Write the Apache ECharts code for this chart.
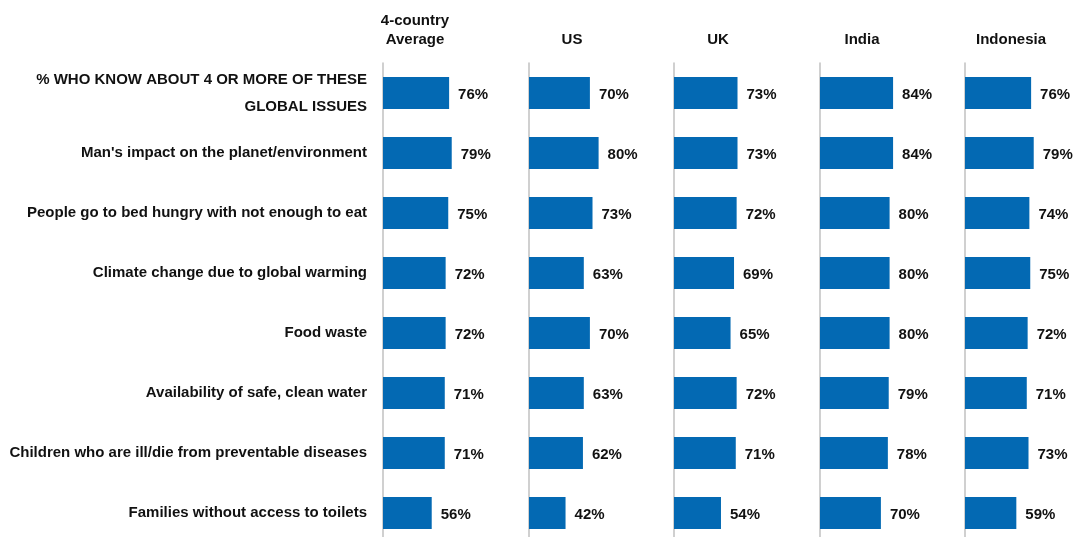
<!DOCTYPE html>
<html>
<head>
<meta charset="utf-8">
<script src="https://cdn.jsdelivr.net/npm/echarts@6/dist/echarts.min.js"></script>
<style>
  html, body { margin: 0; padding: 0; background: #fff; overflow: hidden; }
  #chart { width: 1074px; height: 543px; }
</style>
</head>
<body>
<div id="chart"></div>
<script>
// Awareness of global issues, by country
const categories = [
  '% WHO KNOW ABOUT 4 OR MORE OF THESE\nGLOBAL ISSUES',
  "Man's impact on the planet/environment",
  'People go to bed hungry with not enough to eat',
  'Climate change due to global warming',
  'Food waste',
  'Availability of safe, clean water',
  'Children who are ill/die from preventable diseases',
  'Families without access to toilets'
];
const panelTitles = ['4-country\nAverage', 'US', 'UK', 'India', 'Indonesia'];
const average = [76, 79, 75, 72, 72, 71, 71, 56];
const us = [70, 80, 73, 63, 70, 63, 62, 42];
const uk = [73, 73, 72, 69, 65, 72, 71, 54];
const india = [84, 84, 80, 80, 80, 79, 78, 70];
const indonesia = [76, 79, 74, 75, 72, 71, 73, 59];

const panelValues = [average, us, uk, india, indonesia];
const panelLeft = [383, 529, 674, 820, 965];
const titleCenter = [410, 567, 713, 857, 1006];

const FONT = '"Liberation Sans", Arial, sans-serif';
const BAR = '#0369b3';
const TEXT = '#111111';

const grids = [], xAxes = [], yAxes = [], series = [], titles = [];
panelValues.forEach((vals, i) => {
  // the plot area runs slightly past the bottom edge of the page
  grids.push({ left: panelLeft[i], top: 63, width: 87, bottom: 0 });
  xAxes.push({
    gridIndex: i, type: 'value', min: 0, max: 100,
    show: false
  });
  yAxes.push({
    gridIndex: i, type: 'category', data: categories, inverse: true,
    axisLine: { show: true, lineStyle: { color: '#c0c0c0', width: 1.5 } },
    axisTick: { show: false },
    axisLabel: {
      show: i === 0, margin: 16, fontSize: 15, fontWeight: 'bold',
      fontFamily: FONT, color: TEXT, lineHeight: 27, align: 'right',
      padding: [3, 0, 0, 0]
    }
  });
  series.push({
    type: 'bar', xAxisIndex: i, yAxisIndex: i, data: vals,
    barWidth: 32,
    itemStyle: { color: BAR },
    label: {
      show: true, position: 'right', distance: 9, offset: [0, 2],
      formatter: '{c}%', fontSize: 15, fontWeight: 'bold',
      fontFamily: FONT, color: TEXT
    },
    silent: true, animation: false
  });
  titles.push({
    text: panelTitles[i],
    left: titleCenter[i], top: i === 0 ? 6 : 25,
    textAlign: 'center',
    textStyle: {
      fontSize: 15, fontWeight: 'bold', fontFamily: FONT,
      color: TEXT, lineHeight: 19
    }
  });
});

const chart = echarts.init(document.getElementById('chart'), null, { renderer: 'canvas' });
chart.setOption({
  animation: false,
  title: titles,
  grid: grids,
  xAxis: xAxes,
  yAxis: yAxes,
  series: series
});
</script>
</body>
</html>
